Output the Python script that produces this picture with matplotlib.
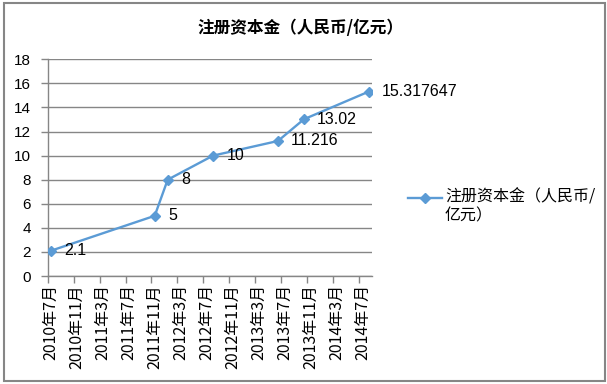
import matplotlib
matplotlib.use('Agg')
import matplotlib.pyplot as plt
from matplotlib.lines import Line2D
from matplotlib.patches import Rectangle
import pandas as pd

plt.rcParams['font.family'] = ['Noto Sans CJK SC', 'DejaVu Sans']

# 数据
dates = ['2010-07', '2011-11', '2012-01', '2012-08', '2013-06', '2013-10', '2014-08']
values = [2.1, 5, 8, 10, 11.216, 13.02, 15.317647]
value_labels = ['2.1', '5', '8', '10', '11.216', '13.02', '15.317647']
tick_labels = ['2010年7月', '2010年11月', '2011年3月', '2011年7月', '2011年11月',
               '2012年3月', '2012年7月', '2012年11月', '2013年3月', '2013年7月',
               '2013年11月', '2014年3月', '2014年7月']
title = '注册资本金（人民币/亿元）'
legend_label = '注册资本金（人民币/\n亿元）'

start = pd.Period('2010-07', freq='M')
x = [(pd.Period(d, freq='M') - start).n + 0.5 for d in dates]

W, H = 607, 384
fig = plt.figure(figsize=(W / 100, H / 100), dpi=100)
ax = fig.add_axes([47.7 / W, 1 - 276 / H, (372 - 47.7) / W, (276 - 59.3) / H])

grey = '#868686'
blue = '#5B9BD5'

ax.plot(x, values, color=blue, lw=1.7, marker='D', ms=5.5, mec=blue, mfc=blue, zorder=3)
for xi, v, lab in zip(x, values, value_labels):
    ax.annotate(lab, (xi, v), xytext=(9.5, 0), textcoords='offset points',
                ha='left', va='center', fontsize=11.5, family=['Liberation Sans'])

ax.set_xlim(0, 50)
ax.set_ylim(0, 18)
ax.set_yticks(range(0, 19, 2))
ax.set_yticklabels([str(v) for v in range(0, 19, 2)], family=['Liberation Sans'], fontsize=11)
ax.yaxis.grid(True, color=grey, lw=1)
ax.set_axisbelow(True)

major = list(range(0, 49, 4))
ax.set_xticks(major)
ax.set_xticklabels([''] * len(major))
ax.set_xticks([m + 0.5 for m in major], minor=True)
ax.set_xticklabels(tick_labels, minor=True, rotation=90, fontsize=11.5, va='top', ha='center')
ax.tick_params(axis='x', which='minor', length=0, pad=6)
ax.tick_params(axis='x', which='major', length=5, color=grey, width=1)
ax.tick_params(axis='y', length=5, color=grey, width=1, pad=7)

for s in ['top', 'right']:
    ax.spines[s].set_visible(False)
for s in ['left', 'bottom']:
    ax.spines[s].set_color(grey)
    ax.spines[s].set_linewidth(1)

fig.text(300 / W, 1 - 28 / H, title, ha='center', va='center', fontsize=12, fontweight='bold')

# 图例
ly = 1 - 198 / H
fig.add_artist(Line2D([408 / W, 442 / W], [ly, ly], color=blue, lw=1.7, transform=fig.transFigure))
fig.add_artist(Line2D([425 / W], [ly], color=blue, marker='D', ms=5.5, transform=fig.transFigure))
fig.text(445 / W, ly + 9 / H, legend_label, ha='left', va='top', fontsize=11.5, linespacing=1.15)

fig.add_artist(Rectangle((4 / W, 3 / H), 601 / W, 378 / H, fill=False, ec=grey, lw=1.5,
                         transform=fig.transFigure))

fig.savefig('out.png', dpi=100)
